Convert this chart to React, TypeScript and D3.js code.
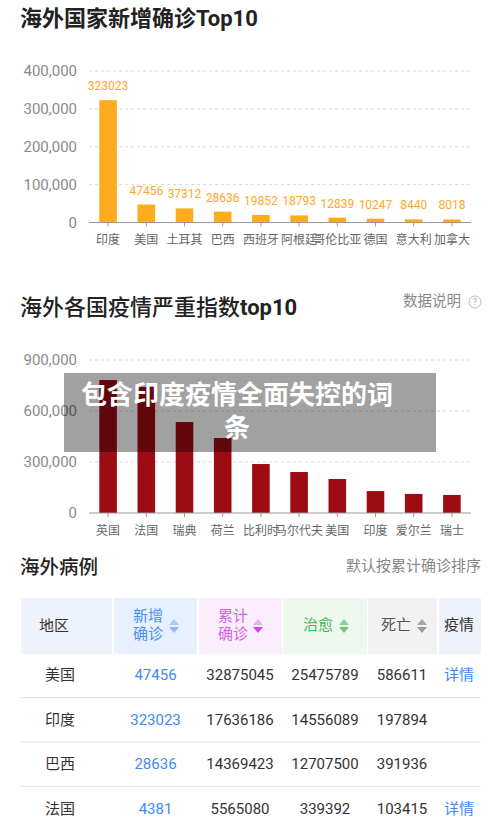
import React from "react";
import * as d3 from "d3";

const newCountries = ["印度", "美国", "土耳其", "巴西", "西班牙", "阿根廷", "哥伦比亚", "德国", "意大利", "加拿大"];
const newValues = [323023, 47456, 37312, 28636, 19852, 18793, 12839, 10247, 8440, 8018];
const newTicks = [0, 100000, 200000, 300000, 400000];

const sevCountries = ["英国", "法国", "瑞典", "荷兰", "比利时", "马尔代夫", "美国", "印度", "爱尔兰", "瑞士"];
const sevValues = [782000, 741000, 535000, 441000, 288000, 241000, 200000, 129000, 112000, 106000];
const sevTicks = [0, 300000, 600000, 900000];

const tableRegions = ["美国", "印度", "巴西", "法国"];
const tableNew = [47456, 323023, 28636, 4381];
const tableTotal = [32875045, 17636186, 14369423, 5565080];
const tableCured = [25475789, 14556089, 12707500, 339392];
const tableDead = [586611, 197894, 391936, 103415];
const tableDetail = [true, false, false, true];

const FONT = "Roboto, 'Noto Sans CJK SC', sans-serif";
const fmt = d3.format(",");

function BarChart({ cats, vals, ticks, y0, y1, color, labelColor, showLabels, labelY }: any) {
  const x = d3.scaleBand().domain(cats).range([89, 471]).padding(0);
  const y = d3.scaleLinear().domain([0, ticks[ticks.length - 1]]).range([y0, y1]);
  const bw = x.bandwidth() * 0.46;
  return (
    <g>
      {ticks.map((t: number) => (
        <g key={t}>
          {t !== 0 && (
            <line x1={89} x2={471} y1={y(t)} y2={y(t)} stroke="#d8d8d8" strokeDasharray="3,3" strokeWidth={1} />
          )}
          <text x={77} y={y(t)} dy="0.35em" textAnchor="end" fontSize={15} fill="#8a8a8a" fontFamily={FONT}>
            {fmt(t)}
          </text>
        </g>
      ))}
      {cats.map((c: string, i: number) => {
        const cx = (x(c) as number) + x.bandwidth() / 2;
        return (
          <g key={c}>
            <rect x={cx - bw / 2} y={y(vals[i])} width={bw} height={y0 - y(vals[i])} fill={color} />
            {showLabels && (
              <text x={cx} y={y(vals[i]) - 10} textAnchor="middle" fontSize={12} fill={labelColor} fontFamily={FONT}>
                {vals[i]}
              </text>
            )}
            <line x1={cx} x2={cx} y1={y0} y2={y0 + 4} stroke="#999" />
            <text x={cx} y={labelY} textAnchor="middle" fontSize={12} fill="#666" fontFamily={FONT}>
              {c}
            </text>
          </g>
        );
      })}
      <line x1={89} x2={471} y1={y0} y2={y0} stroke="#999" strokeWidth={1} />
    </g>
  );
}

function SortIcon({ x, y, up, down }: any) {
  return (
    <g>
      <path d={`M${x - 5},${y - 1} L${x + 5},${y - 1} L${x},${y - 7} Z`} fill={up} />
      <path d={`M${x - 5},${y + 1} L${x + 5},${y + 1} L${x},${y + 7} Z`} fill={down} />
    </g>
  );
}

export default function App() {
  const cols = [
    { x0: 21, x1: 112, bg: "#eef2fb" },
    { x0: 114, x1: 197, bg: "#e7f0fe" },
    { x0: 199, x1: 282, bg: "#faeefd" },
    { x0: 283, x1: 367, bg: "#eff8ef" },
    { x0: 368, x1: 437, bg: "#f2f2f2" },
    { x0: 439, x1: 481, bg: "#eef2fa" },
  ];
  const rowY = d3.scaleLinear().domain([0, 1]).range([675, 719.5]);
  return (
    <svg width={500} height={825} style={{ position: "absolute", left: 0, top: 0, background: "#fff" }} fontFamily={FONT}>
      <text x={20} y={26} fontSize={22} fontWeight="bold" fill="#222">海外国家新增确诊Top10</text>
      <BarChart cats={newCountries} vals={newValues} ticks={newTicks} y0={222.5} y1={71} color="#fdac1d" labelColor="#ffa628" showLabels labelY={244} />

      <text x={20} y={315} fontSize={22} fontWeight={500} fill="#222">海外各国疫情严重指数<tspan fontWeight="bold">top10</tspan></text>
      <text x={403} y={306} fontSize={14.5} fill="#888">数据说明</text>
      <circle cx={475} cy={302} r={6} fill="none" stroke="#bbb" strokeWidth={1} />
      <text x={475} y={302} dy="0.35em" textAnchor="middle" fontSize={9} fill="#aaa">?</text>
      <BarChart cats={sevCountries} vals={sevValues} ticks={sevTicks} y0={513} y1={360} color="#9d0b13" labelColor="#000" showLabels={false} labelY={535} />

      <rect x={64} y={373} width={372} height={79} fill="rgba(0,0,0,0.37)" />
      <text x={237} y={404} textAnchor="middle" fontSize={26} fontWeight="bold" fill="#fff">包含印度疫情全面失控的词</text>
      <text x={237} y={437} textAnchor="middle" fontSize={26} fontWeight="bold" fill="#fff">条</text>

      <text x={20} y={574} fontSize={19.5} fontWeight={500} fill="#222">海外病例</text>
      <text x={481} y={571} textAnchor="end" fontSize={15} fill="#888">默认按累计确诊排序</text>

      {cols.map((c, i) => (
        <rect key={i} x={c.x0} y={598} width={c.x1 - c.x0} height={56} fill={c.bg} />
      ))}
      <text x={39} y={631} fontSize={15} fill="#333">地区</text>
      <text x={133} y={621} fontSize={15} fill="#4a90f2">新增</text>
      <text x={133} y={639} fontSize={15} fill="#4a90f2">确诊</text>
      <SortIcon x={174} y={626} up="#a8c9f8" down="#8dbaf6" />
      <text x={218} y={621} fontSize={15} fill="#d563e8">累计</text>
      <text x={218} y={639} fontSize={15} fill="#d563e8">确诊</text>
      <SortIcon x={258} y={626} up="#eab0f4" down="#c84ae2" />
      <text x={303} y={630} fontSize={15} fill="#3fb657">治愈</text>
      <SortIcon x={344} y={626} up="#86cf95" down="#6cc480" />
      <text x={381} y={630} fontSize={15} fill="#555">死亡</text>
      <SortIcon x={422} y={626} up="#a8a8a8" down="#999" />
      <text x={444} y={630} fontSize={15} fill="#333">疫情</text>

      {tableRegions.map((r, i) => {
        const cy = rowY(i);
        return (
          <g key={r}>
            {i > 0 && <line x1={20} x2={481} y1={cy - 22} y2={cy - 22} stroke="#e6e6e6" strokeWidth={1} />}
            <text x={45} y={cy} dy="0.35em" fontSize={15} fill="#333">{r}</text>
            <text x={155.5} y={cy} dy="0.35em" textAnchor="middle" fontSize={15} fill="#3d8bf5">{tableNew[i]}</text>
            <text x={240} y={cy} dy="0.35em" textAnchor="middle" fontSize={15} fill="#333">{tableTotal[i]}</text>
            <text x={325} y={cy} dy="0.35em" textAnchor="middle" fontSize={15} fill="#333">{tableCured[i]}</text>
            <text x={402} y={cy} dy="0.35em" textAnchor="middle" fontSize={15} fill="#333">{tableDead[i]}</text>
            {tableDetail[i] && (
              <text x={459} y={cy} dy="0.35em" textAnchor="middle" fontSize={15} fill="#3d8bf5">详情</text>
            )}
          </g>
        );
      })}
    </svg>
  );
}
